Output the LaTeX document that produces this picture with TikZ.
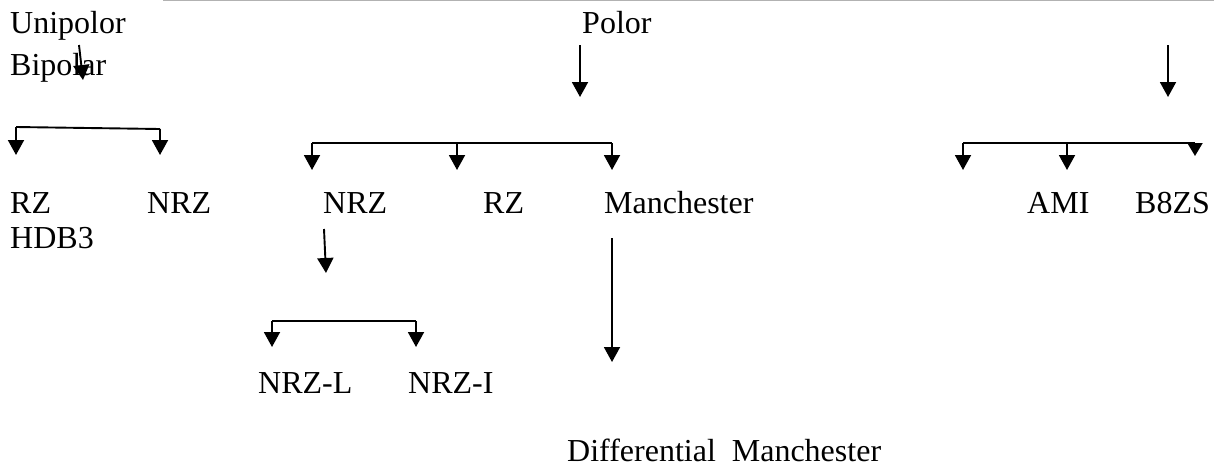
\documentclass[tikz,border=0pt]{standalone}
\usepackage{fontspec}
\setmainfont{Liberation Serif}
\usetikzlibrary{arrows.meta}
\begin{document}
\begin{tikzpicture}[x=1pt,y=-1pt,
  lbl/.style={anchor=base west,inner sep=0pt,font=\fontsize{32}{36}\selectfont},
  arr/.style={line width=1.9pt,-{Triangle[width=16pt,length=15pt]}},
  ln/.style={line width=1.9pt}]
\useasboundingbox (0,0) rectangle (1214,466);
\draw[gray!60,line width=1.3pt] (163,0.65) -- (1214,0.65);
% labels
\node[lbl] (uni) at (10,33) {Unipolor};
\node[lbl] (bip) at (10,75) {Bipolar};
\node[lbl] (pol) at (582,33) {Polor};
\node[lbl] (rz1) at (10,213) {RZ};
\node[lbl] (nrz1) at (147,213) {NRZ};
\node[lbl] (hdb) at (10,248) {HDB3};
\node[lbl] (nrz2) at (323,213) {NRZ};
\node[lbl] (rz2) at (483,213) {RZ};
\node[lbl] (man) at (604,213) {Manchester};
\node[lbl] (ami) at (1027,213) {AMI};
\node[lbl] (b8) at (1135,213) {B8ZS};
\node[lbl] (nrzl) at (258,393) {NRZ-L};
\node[lbl] (nrzi) at (408,393) {NRZ-I};
\node[lbl] (dm) at (567,461) {Differential\ \ Manchester};
% coordinates
\coordinate (a1s) at (79,45); \coordinate (a1e) at (83,80);
\coordinate (b1l) at (16,127); \coordinate (b1r) at (160,129);
\coordinate (b1lt) at (16,155); \coordinate (b1rt) at (160,155);
\coordinate (a2s) at (580,45); \coordinate (a2e) at (580,97);
\coordinate (b2l) at (312,143); \coordinate (b2m) at (457,143); \coordinate (b2r) at (612,143);
\coordinate (b2lt) at (312,170); \coordinate (b2mt) at (457,170); \coordinate (b2rt) at (612,170);
\coordinate (a3s) at (1168,45); \coordinate (a3e) at (1168,97);
\coordinate (b3l) at (963,143); \coordinate (b3m) at (1067,143); \coordinate (b3r) at (1195,143);
\coordinate (b3lt) at (963,170); \coordinate (b3mt) at (1067,170); \coordinate (b3rt) at (1195,156);
\coordinate (a4s) at (324,229); \coordinate (a4e) at (326,273);
\coordinate (b4l) at (272,321); \coordinate (b4r) at (416,321);
\coordinate (b4lt) at (272,347); \coordinate (b4rt) at (416,347);
\coordinate (a5s) at (612,238); \coordinate (a5e) at (612,362);
% connectors
\draw[arr] (a1s) -- (a1e);
\draw[ln] (b1l) -- (b1r);
\draw[arr] (b1l) -- (b1lt);
\draw[arr] (b1r) -- (b1rt);
\draw[arr] (a2s) -- (a2e);
\draw[ln] (b2l) -- (b2r);
\draw[arr] (b2l) -- (b2lt);
\draw[arr] (b2m) -- (b2mt);
\draw[arr] (b2r) -- (b2rt);
\draw[arr] (a3s) -- (a3e);
\draw[ln] (b3l) -- (b3r);
\draw[arr] (b3l) -- (b3lt);
\draw[arr] (b3m) -- (b3mt);
\draw[line width=1.9pt,-{Triangle[width=15pt,length=13pt]}] (b3r) -- (b3rt);
\draw[arr] (a4s) -- (a4e);
\draw[ln] (b4l) -- (b4r);
\draw[arr] (b4l) -- (b4lt);
\draw[arr] (b4r) -- (b4rt);
\draw[arr] (a5s) -- (a5e);
\end{tikzpicture}
\end{document}
